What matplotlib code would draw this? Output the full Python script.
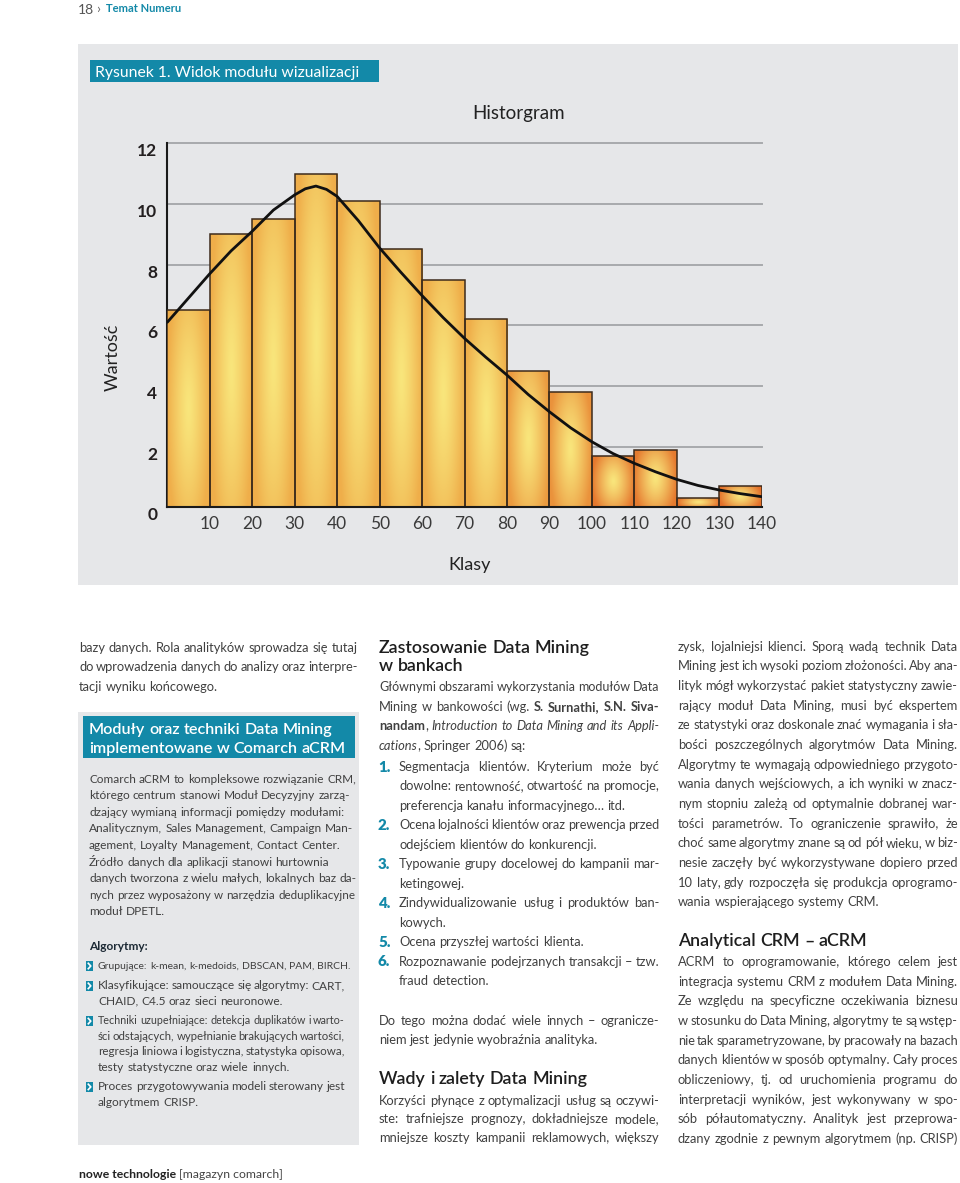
import re
import numpy as np
import matplotlib
matplotlib.use('Agg')
import matplotlib.pyplot as plt
from matplotlib.patches import Rectangle
from matplotlib.lines import Line2D
from matplotlib.transforms import offset_copy
from matplotlib.colors import to_rgb

W, H = 960, 1183

# ---------------- chart data ----------------
bin_left = [0, 10, 20, 30, 40, 50, 60, 70, 80, 90, 100, 110, 120, 130]
counts = [6.5, 9.0, 9.5, 11.0, 10.1, 8.5, 7.5, 6.2, 4.5, 3.8, 1.7, 1.9, 0.3, 0.7]
curve_x = [0, 5, 10, 15, 20, 25, 30, 32.5, 35, 37.5, 40, 45, 50, 55, 60, 65, 70,
           75, 80, 85, 90, 95, 100, 105, 110, 115, 120, 125, 130, 135, 140]
curve_y = [6.1, 6.9, 7.7, 8.45, 9.1, 9.8, 10.3, 10.5, 10.59, 10.48, 10.25, 9.45,
           8.55, 7.75, 6.98, 6.25, 5.57, 4.95, 4.36, 3.72, 3.15, 2.62, 2.16, 1.77,
           1.45, 1.17, 0.92, 0.72, 0.57, 0.45, 0.35]
y_ticks = [0, 2, 4, 6, 8, 10, 12]
x_ticks = [10, 20, 30, 40, 50, 60, 70, 80, 90, 100, 110, 120, 130, 140]
chart_title = "Historgram"
y_label = "Wartość"
x_label = "Klasy"
figure_caption = "Rysunek 1. Widok modułu wizualizacji"

# ---------------- text content ----------------
left_top = [
    ("bazy danych. Rola analityków sprowadza się tutaj", True),
    ("do wprowadzenia danych do analizy oraz interpre-", True),
    ("tacji wyniku końcowego.", False),
]
box_title = ["Moduły oraz techniki Data Mining", "implementowane w Comarch aCRM"]
box_body = [
    "Comarch aCRM to kompleksowe rozwiązanie CRM,",
    "którego centrum stanowi Moduł Decyzyjny zarzą-",
    "dzający wymianą informacji pomiędzy modułami:",
    "Analitycznym, Sales Management, Campaign Man-",
    "agement, Loyalty Management, Contact Center.",
    "Źródło danych dla aplikacji stanowi hurtownia",
    "danych tworzona z wielu małych, lokalnych baz da-",
    "nych przez wyposażony w narzędzia deduplikacyjne",
    "moduł DPETL.",
]
box_bullets = [
    [("Grupujące: k-mean, k-medoids, DBSCAN, PAM, BIRCH.", False)],
    [("Klasyfikujące: samouczące się algorytmy: CART,", True),
     ("CHAID, C4.5 oraz sieci neuronowe.", False)],
    [("Techniki uzupełniające: detekcja duplikatów i warto-", True),
     ("ści odstających, wypełnianie brakujących wartości,", True),
     ("regresja liniowa i logistyczna, statystyka opisowa,", True),
     ("testy statystyczne oraz wiele innych.", False)],
    [("Proces przygotowywania modeli sterowany jest", True),
     ("algorytmem CRISP.", False)],
]
mid_intro = [
    ("Głównymi obszarami wykorzystania modułów Data", True),
    ("Mining w bankowości (wg. **S. Surnathi, S.N. Siva-**", True),
    ("**nandam**, __Introduction to Data Mining and its Appli-__", True),
    ("__cations__, Springer 2006) są:", False),
]
mid_list = [
    [("Segmentacja klientów. Kryterium może być", True),
     ("dowolne: rentowność, otwartość na promocje,", True),
     ("preferencja kanału informacyjnego… itd.", False)],
    [("Ocena lojalności klientów oraz prewencja przed", True),
     ("odejściem klientów do konkurencji.", False)],
    [("Typowanie grupy docelowej do kampanii mar-", True),
     ("ketingowej.", False)],
    [("Zindywidualizowanie usług i produktów ban-", True),
     ("kowych.", False)],
    [("Ocena przyszłej wartości klienta.", False)],
    [("Rozpoznawanie podejrzanych transakcji – tzw.", True),
     ("fraud detection.", False)],
]
mid_extra = [
    ("Do tego można dodać wiele innych – ogranicze-", True),
    ("niem jest jedynie wyobraźnia analityka.", False),
]
mid_wady = [
    ("Korzyści płynące z optymalizacji usług są oczywi-", True),
    ("ste: trafniejsze prognozy, dokładniejsze modele,", True),
    ("mniejsze koszty kampanii reklamowych, większy", True),
]
right_p1 = [
    ("zysk, lojalniejsi klienci. Sporą wadą technik Data", True),
    ("Mining jest ich wysoki poziom złożoności. Aby ana-", True),
    ("lityk mógł wykorzystać pakiet statystyczny zawie-", True),
    ("rający moduł Data Mining, musi być ekspertem", True),
    ("ze statystyki oraz doskonale znać wymagania i sła-", True),
    ("bości poszczególnych algorytmów Data Mining.", True),
    ("Algorytmy te wymagają odpowiedniego przygoto-", True),
    ("wania danych wejściowych, a ich wyniki w znacz-", True),
    ("nym stopniu zależą od optymalnie dobranej war-", True),
    ("tości parametrów. To ograniczenie sprawiło, że", True),
    ("choć same algorytmy znane są od pół wieku, w biz-", True),
    ("nesie zaczęły być wykorzystywane dopiero przed", True),
    ("10 laty, gdy rozpoczęła się produkcja oprogramo-", True),
    ("wania wspierającego systemy CRM.", False),
]
right_p2 = [
    ("ACRM to oprogramowanie, którego celem jest", True),
    ("integracja systemu CRM z modułem Data Mining.", True),
    ("Ze względu na specyficzne oczekiwania biznesu", True),
    ("w stosunku do Data Mining, algorytmy te są wstęp-", True),
    ("nie tak sparametryzowane, by pracowały na bazach", True),
    ("danych klientów w sposób optymalny. Cały proces", True),
    ("obliczeniowy, tj. od uruchomienia programu do", True),
    ("interpretacji wyników, jest wykonywany w spo-", True),
    ("sób półautomatyczny. Analityk jest przeprowa-", True),
    ("dzany zgodnie z pewnym algorytmem (np. CRISP)", True),
]

# ---------------- styles ----------------
TEAL = '#1389a8'
PANEL = '#e6e7e9'
BODY = '#404040'
HEAD = '#1e1e1e'

plt.rcParams['font.family'] = ['Lato', 'DejaVu Sans']
fig = plt.figure(figsize=(W / 100, H / 100), dpi=100)
fig.patch.set_facecolor('white')
R = fig.canvas.get_renderer()


def fx(x):
    return x / W


def fy(y):
    return 1 - y / H


def rect(x0, y0, x1, y1, color, z=-5):
    fig.add_artist(Rectangle((fx(x0), fy(y1)), (x1 - x0) / W, (y1 - y0) / H,
                             transform=fig.transFigure, facecolor=color,
                             edgecolor='none', zorder=z))


_cache = {}


def tw(s, size, weight='normal', style='normal'):
    key = (s, size, weight, style)
    if key not in _cache:
        t = fig.text(0, 0, s, fontsize=size, fontweight=weight, fontstyle=style)
        _cache[key] = t.get_window_extent(R).width
        t.remove()
    return _cache[key]


def parse(line, weight):
    runs = []
    for part in re.split(r'(\*\*.*?\*\*|__.*?__)', line):
        if not part:
            continue
        if part.startswith('**'):
            runs.append((part[2:-2], 'bold', 'normal'))
        elif part.startswith('__'):
            runs.append((part[2:-2], weight, 'italic'))
        else:
            runs.append((part, weight, 'normal'))
    words = [[]]
    for text, w, s in runs:
        pieces = text.split(' ')
        for i, p in enumerate(pieces):
            if i > 0:
                words.append([])
            if p:
                words[-1].append((p, w, s))
    return [w for w in words if w]


def layout(words, size, weight):
    sp = tw('a a', size, weight) - tw('aa', size, weight)
    widths = [[tw(p, size, w, s) for p, w, s in word] for word in words]
    return sp, widths


def natural_ratio(text, x0, x1, size, weight='normal', spf=0.85):
    words = parse(text, weight)
    sp, widths = layout(words, size, weight)
    total = sum(sum(ws) for ws in widths)
    return (x1 - x0) / (total + spf * sp * (len(words) - 1))


def draw_line(line, x0, x1, y, size, color=BODY, justify=False, weight='normal'):
    words = parse(line, weight)
    avail = x1 - x0
    for _ in range(8):
        sp, widths = layout(words, size, weight)
        total = sum(sum(ws) for ws in widths)
        natural = total + 0.6 * sp * (len(words) - 1)
        if natural <= avail or len(words) < 2:
            break
        size = size * avail / natural * 0.995
    if justify and len(words) > 1:
        gap = (avail - total) / (len(words) - 1)
    else:
        gap = sp
    yb = y + 0.3 * size * 100 / 72
    x = x0
    for word, ws in zip(words, widths):
        for (p, w, s), pw in zip(word, ws):
            fig.text(fx(x), fy(yb), p, fontsize=size, fontweight=w, fontstyle=s,
                     color=color, ha='left', va='baseline', zorder=5)
            x += pw
        x += gap


def draw_block(lines, x0, x1, y0, step, size, color=BODY):
    y = y0
    for text, just in lines:
        draw_line(text, x0, x1, y, size, color, just)
        y += step
    return y


# ---------------- body font size fitted to the justified columns ----------------
ratios = []
for blk, a, b in [(left_top, 79, 358), (mid_intro, 379, 659), (mid_extra, 379, 659),
                  (mid_wady, 379, 659), (right_p1, 678, 958), (right_p2, 678, 958)]:
    for text, just in blk:
        if just:
            ratios.append(natural_ratio(text, a, b, 10.0))
for item in mid_list:
    for text, just in item:
        if just:
            ratios.append(natural_ratio(text, 399, 659, 10.0))
BS = min(10.0 * float(np.percentile(ratios, 25)), 10.4)
SS = BS * 0.93

# ---------------- page header ----------------
fig.text(fx(78), fy(13.5), "18", fontsize=10, color='#555555',
         ha='left', va='baseline')
fig.text(fx(96), fy(13), "›", fontsize=10, color='#666666', ha='left', va='baseline')
fig.text(fx(106), fy(12.5), "Temat Numeru", fontsize=8, color=TEAL, fontweight='bold',
         ha='left', va='baseline')

# ---------------- chart panel ----------------
rect(78, 44, 958, 585, PANEL)
rect(90, 60, 379, 82, TEAL, z=-4)
fig.text(fx(95), fy(77), figure_caption, fontsize=11.3, color='white',
         ha='left', va='baseline', zorder=5)

ax = fig.add_axes([fx(167.3), fy(507.3), (761.7 - 167.3) / W, (507.3 - 143.3) / H])
ax.set_zorder(1)
ax.patch.set_alpha(0)

c_center = np.array(to_rgb('#f9e67c'))
c_tall = np.array(to_rgb('#efae4a'))
c_short = np.array(to_rgb('#e4702a'))
bars = ax.bar(bin_left, counts, width=10, align='edge', fill=False,
              edgecolor='#3d2b1c', linewidth=1.1, zorder=4)
ny, nx = 90, 40
yy, xx = np.mgrid[0:1:ny * 1j, 0:1:nx * 1j]
for b, h in zip(bars, counts):
    th = np.clip((h - 1.0) / 5.0, 0, 1)
    c_edge = c_short * (1 - th) + c_tall * th
    d = np.sqrt(((xx - 0.5) / 0.5) ** 2 * 0.95 + ((yy - 0.5) / 0.5) ** 2 * 0.45)
    t = np.clip(d, 0, 1) ** 1.25
    img = c_center[None, None, :] * (1 - t[..., None]) + c_edge[None, None, :] * t[..., None]
    x0 = b.get_x()
    im = ax.imshow(img, extent=[x0, x0 + b.get_width(), 0, h], origin='lower',
                   aspect='auto', interpolation='bilinear', zorder=3)
    im.set_clip_path(b)

ax.plot(curve_x, curve_y, color='#111111', lw=2.0, zorder=5, solid_capstyle='round')

ax.set_xlim(0, 140)
ax.set_ylim(0, 12)
for v in y_ticks[1:]:
    ax.axhline(v, color='#a8aaad', lw=1.4, zorder=1, clip_on=False)
for s in ['top', 'right']:
    ax.spines[s].set_visible(False)
ax.spines['left'].set_color('#1a1a1a')
ax.spines['left'].set_linewidth(1.5)
ax.spines['bottom'].set_color('#1a1a1a')
ax.spines['bottom'].set_linewidth(1.5)
ax.spines['bottom'].set_zorder(6)
ax.set_xticks([])
ax.set_yticks([])

ytr = offset_copy(ax.get_yaxis_transform(), fig=fig, x=-10, y=-8, units='dots')
for v in y_ticks:
    ax.text(0, v, str(v), transform=ytr, ha='right', va='center', fontsize=12.5,
            fontweight='bold', color='#231f20', clip_on=False)
xtr = offset_copy(ax.get_xaxis_transform(), fig=fig, x=0, y=-17, units='dots')
for v in x_ticks:
    ax.text(v, 0, str(v), transform=xtr, ha='center', va='center', fontsize=12.5,
            fontweight='normal', color='#3a3a3a', clip_on=False)

fig.text(fx(519), fy(113), chart_title, fontsize=13.5, color='#222222',
         ha='center', va='center')
fig.text(fx(113), fy(357), y_label, fontsize=13, color='#222222', rotation=90,
         ha='center', va='center')
fig.text(fx(470), fy(565), x_label, fontsize=13, color='#222222',
         ha='center', va='center')

# ---------------- left column ----------------
draw_block(left_top, 79, 358, 648, 19.6, BS)

rect(78, 712, 359, 1145, PANEL)
rect(83, 716, 355, 758, TEAL, z=-4)
TS = 11.3 * min(natural_ratio(box_title[1], 89, 347, 11.3, 'semibold', 1.0), 1.15)
draw_line(box_title[0], 89, 352, 729, TS, 'white', False, weight='semibold')
draw_line(box_title[1], 89, 352, 748, TS, 'white', False, weight='semibold')

y = 779
for line in box_body:
    draw_line(line, 89, 350, y, SS, BODY, False)
    y += 16.6
draw_line("Algorytmy:", 89, 341, 946, SS, '#1d2a35', False, weight='bold')
by = 966
for item in box_bullets:
    rect(86, by - 5, 93, by + 5, TEAL, z=-4)
    fig.add_artist(Line2D([fx(88.3), fx(90.8), fx(88.3)], [fy(by - 2.7), fy(by), fy(by + 2.7)],
                          transform=fig.transFigure, color='white', lw=1.2, zorder=2))
    for text, just in item:
        draw_line(text, 98, 345, by, SS, BODY, just)
        by += 15.3
    by += 4.6

fig.text(fx(79), fy(1178), "nowe technologie", fontsize=8.8, fontweight='bold',
         color='#222222', ha='left', va='baseline')
fig.text(fx(79 + tw("nowe technologie ", 8.8, 'bold')), fy(1178), "[magazyn comarch]",
         fontsize=8.8, color='#444444', ha='left', va='baseline')

# ---------------- middle column ----------------
HS = 12.8
draw_line("Zastosowanie Data Mining", 379, 660, 648, HS, HEAD, False, weight='semibold')
draw_line("w bankach", 379, 660, 666, HS, HEAD, False, weight='semibold')
draw_block(mid_intro, 379, 659, 687, 19.8, BS)
ly = 767
for i, item in enumerate(mid_list):
    fig.text(fx(378), fy(ly + 0.3 * 10.8 * 100 / 72), f"{i + 1}.", fontsize=10.8,
             fontweight='heavy', color=TEAL, ha='left', va='baseline', zorder=5)
    for text, just in item:
        draw_line(text, 399, 659, ly, BS, BODY, just)
        ly += 19.5
draw_block(mid_extra, 379, 659, 1021, 19.5, BS)
draw_line("Wady i zalety Data Mining", 379, 660, 1079, HS, HEAD, False, weight='semibold')
draw_block(mid_wady, 379, 659, 1101, 18.6, BS)

# ---------------- right column ----------------
draw_block(right_p1, 678, 958, 647, 19.64, BS)
draw_line("Analytical CRM – aCRM", 678, 958, 941, HS, HEAD, False, weight='semibold')
draw_block(right_p2, 678, 958, 962, 19.7, BS)

fig.savefig('out.png', dpi=100, facecolor='white')
